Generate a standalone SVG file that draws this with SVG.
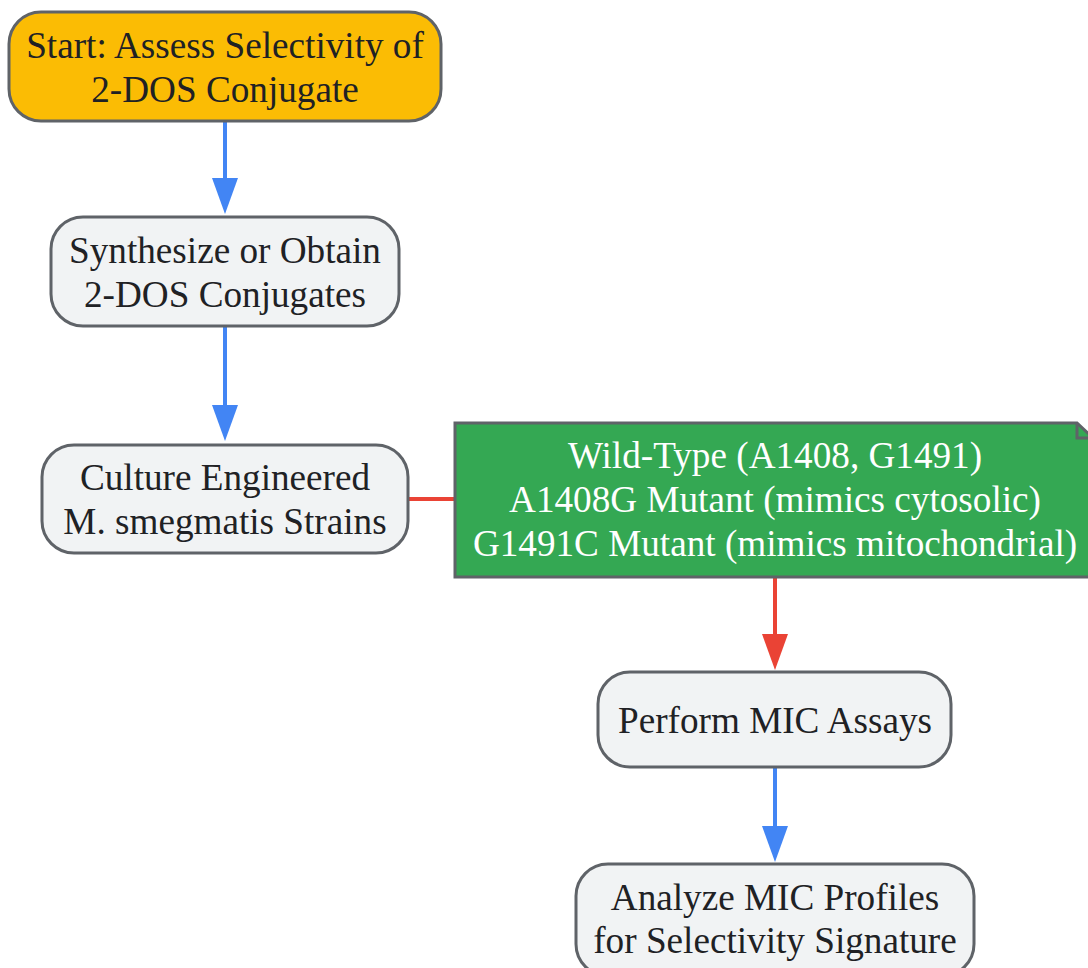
<svg xmlns="http://www.w3.org/2000/svg" width="1088" height="968" viewBox="0 0 1088 968">
<defs>
<style>
.box{stroke:#5f6368;stroke-width:3}
.plain{fill:#f1f3f4}
.t{font-family:"Liberation Serif","Times New Roman",serif;font-size:37.2px;fill:#202124;text-anchor:middle}
.gt{font-family:"Liberation Serif","Times New Roman",serif;font-size:37.2px;fill:#ffffff;text-anchor:middle}
.blue{stroke:#4285f4;stroke-width:4;fill:none}
.red{stroke:#ea4335;stroke-width:4;fill:none}
</style>
<marker id="ab" markerUnits="userSpaceOnUse" markerWidth="36" markerHeight="26" viewBox="0 0 36 26" refX="2" refY="13" orient="auto"><path d="M0,0 L36,13 L0,26 Z" fill="#4285f4"/></marker>
<marker id="ar" markerUnits="userSpaceOnUse" markerWidth="36" markerHeight="26" viewBox="0 0 36 26" refX="2" refY="13" orient="auto"><path d="M0,0 L36,13 L0,26 Z" fill="#ea4335"/></marker>
</defs>
<rect width="1088" height="968" fill="#ffffff"/>
<g id="connectors">
<line class="blue" x1="225" y1="122" x2="225" y2="180" marker-end="url(#ab)"/>
<line class="blue" x1="225" y1="327" x2="225" y2="407" marker-end="url(#ab)"/>
<line class="red" x1="408" y1="499" x2="455" y2="499"/>
<line class="red" x1="775" y1="577" x2="775" y2="636" marker-end="url(#ar)"/>
<line class="blue" x1="775" y1="768" x2="775" y2="828" marker-end="url(#ab)"/>
</g>
<g id="start">
<rect class="box" x="9" y="12" width="432" height="109" rx="32" fill="#fbbc04"/>
<text class="t" x="225" y="58">Start: Assess Selectivity of</text>
<text class="t" x="225" y="102">2-DOS Conjugate</text>
</g>
<g id="synthesize">
<rect class="box plain" x="51" y="217" width="348" height="109" rx="32"/>
<text class="t" x="225" y="263">Synthesize or Obtain</text>
<text class="t" x="225" y="307">2-DOS Conjugates</text>
</g>
<g id="culture">
<rect class="box plain" x="42" y="445" width="366" height="108" rx="32"/>
<text class="t" x="225" y="490">Culture Engineered</text>
<text class="t" x="225" y="534">M. smegmatis Strains</text>
</g>
<g id="strains">
<path class="box" d="M455,423 H1077 L1093,438 V577 H455 Z" fill="#34a853"/>
<path class="box" d="M1077,423 V438 H1093" fill="none"/>
<text class="gt" x="775" y="468">Wild-Type (A1408, G1491)</text>
<text class="gt" x="775" y="512">A1408G Mutant (mimics cytosolic)</text>
<text class="gt" x="775" y="556">G1491C Mutant (mimics mitochondrial)</text>
</g>
<g id="mic">
<rect class="box plain" x="598" y="672" width="353" height="95" rx="32"/>
<text class="t" x="775" y="733">Perform MIC Assays</text>
</g>
<g id="analyze">
<rect class="box plain" x="576" y="864" width="398" height="112" rx="32"/>
<text class="t" x="775" y="910">Analyze MIC Profiles</text>
<text class="t" x="775" y="953">for Selectivity Signature</text>
</g>
</svg>
